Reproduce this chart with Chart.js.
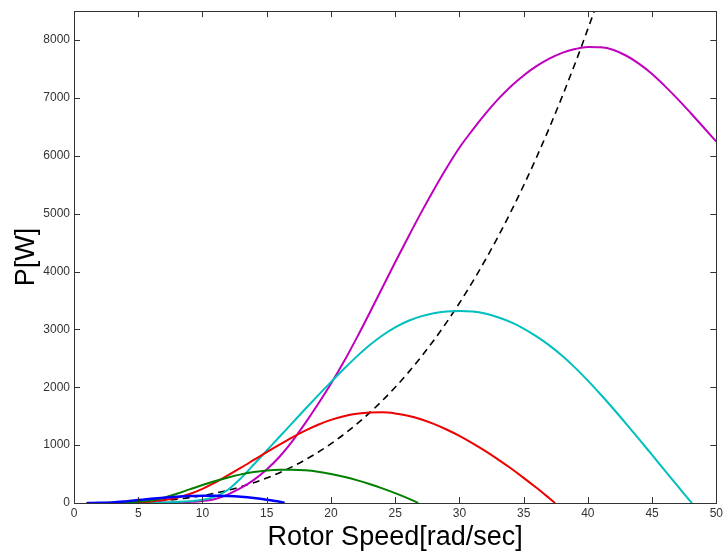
<!DOCTYPE html>
<html>
<head>
<meta charset="utf-8">
<script src="https://cdn.jsdelivr.net/npm/chart.js@4.4.0/dist/chart.umd.min.js"></script>
<style>
  html, body { margin: 0; padding: 0; background: #fff; }
  #wrap { width: 726px; height: 558px; }
</style>
</head>
<body>
<div id="wrap"><canvas id="powerChart"></canvas></div>
<script>
// rotor speed [rad/s] vs power [W], one curve per wind speed
const blueX = [1, 2, 3, 4, 5, 6, 7, 8, 9, 10, 11, 12, 13, 14, 15, 16, 16.4];
const blueY = [0, 3, 10, 28, 50, 72, 92, 108, 120, 127, 127, 120, 106, 85, 57, 22, 0];

const greenX = [1, 2, 3, 4, 5, 6, 7, 8, 9, 10, 11, 12, 13, 14, 15, 16, 17, 18, 19, 20, 21, 22, 23, 24, 25, 26, 26.8];
const greenY = [0, 1, 3, 8, 20, 45, 90, 160, 235, 310, 380, 442, 495, 535, 562, 575, 576, 565, 540, 502, 453, 395, 328, 253, 170, 80, 0];

const redX = [1, 2, 3, 4, 5, 6, 7, 8, 9, 10, 11, 12, 13, 14, 15, 16, 17, 18, 19, 20, 21, 22, 23, 24, 25,
              26, 27, 28, 29, 30, 31, 32, 33, 34, 35, 36, 37, 37.45];
const redY = [0, 1, 3, 6, 12, 25, 50, 90, 155, 245, 355, 480, 610, 745, 880, 1010, 1135, 1250, 1352, 1437, 1500, 1543, 1565, 1567, 1548,
              1508, 1447, 1367, 1270, 1160, 1035, 900, 755, 600, 435, 262, 82, 0];

const cyanX = [1, 3, 5, 7, 8, 9, 10, 11, 12, 13, 14, 15, 16, 17, 18, 19, 20, 21, 22, 23, 24, 25, 26, 27, 28, 29, 30,
               31, 32, 33, 34, 35, 36, 37, 38, 39, 40, 41, 42, 43, 44, 45, 46, 47, 48, 48.1];
const cyanY = [0, 1, 3, 10, 18, 30, 55, 110, 230, 430, 665, 905, 1145, 1385, 1625, 1860, 2090, 2315, 2530, 2725, 2895, 3035, 3145, 3225, 3280, 3310, 3320,
               3310, 3275, 3210, 3125, 3015, 2880, 2725, 2545, 2340, 2115, 1875, 1625, 1365, 1100, 830, 560, 290, 25, 0];

const magentaX = [1, 4, 6, 8, 9, 10, 11, 12, 13, 14, 15, 16, 17, 18, 19, 20, 21, 22, 23, 24, 25, 26, 27, 28, 29, 30,
                  31, 32, 33, 34, 35, 36, 37, 38, 39, 40, 41, 42, 43, 44, 45, 46, 47, 48, 49, 50];
const magentaY = [0, 1, 3, 8, 18, 35, 70, 150, 260, 400, 580, 800, 1070, 1380, 1710, 2060, 2440, 2850, 3280, 3720, 4160, 4590, 5010, 5410, 5790, 6140,
                  6440, 6720, 6975, 7200, 7390, 7550, 7680, 7780, 7845, 7880, 7875, 7830, 7730, 7590, 7415, 7205, 6980, 6740, 6495, 6245];

// optimum power line
const optX = [1, 3, 5, 7, 9, 11, 13, 15, 17, 19, 21, 23, 25, 27, 29, 31, 33, 35, 37, 39, 40.5];
const optY = [0, 3, 16, 44, 93, 170, 281, 432, 629, 878, 1185, 1557, 2000, 2519, 3122, 3813, 4600, 5488, 6484, 7593, 8500];

const xTicks = [0, 5, 10, 15, 20, 25, 30, 35, 40, 45, 50];
const yTicks = [0, 1000, 2000, 3000, 4000, 5000, 6000, 7000, 8000];

const FONT = "'Liberation Sans', Arial, sans-serif";
const AXIS_COLOR = '#333333';

function pts(xs, ys) { return xs.map((x, i) => ({ x: x, y: ys[i] })); }

function curve(xs, ys, color, width, dash) {
  return {
    data: pts(xs, ys),
    borderColor: color,
    backgroundColor: color,
    borderWidth: width,
    borderDash: dash || [],
    pointRadius: 0,
    cubicInterpolationMode: 'monotone',
    fill: false
  };
}

// matlab-style box with inward ticks on all four sides
const boxTicks = {
  id: 'boxTicks',
  afterDatasetsDraw(chart) {
    const { ctx, chartArea: a, scales } = chart;
    const len = 6;
    ctx.save();
    ctx.strokeStyle = AXIS_COLOR;
    ctx.lineWidth = 1;
    ctx.beginPath();
    xTicks.forEach(v => {
      const px = Math.round(scales.x.getPixelForValue(v)) + 0.5;
      ctx.moveTo(px, a.bottom); ctx.lineTo(px, a.bottom - len);
      ctx.moveTo(px, a.top); ctx.lineTo(px, a.top + len);
    });
    yTicks.forEach(v => {
      const py = Math.round(scales.y.getPixelForValue(v)) + 0.5;
      ctx.moveTo(a.left, py); ctx.lineTo(a.left + len, py);
      ctx.moveTo(a.right, py); ctx.lineTo(a.right - len, py);
    });
    ctx.stroke();
    ctx.strokeRect(Math.round(a.left) + 0.5, Math.round(a.top) + 0.5,
                   Math.round(a.right - a.left), Math.round(a.bottom - a.top));
    ctx.restore();
  }
};

new Chart(document.getElementById('powerChart'), {
  type: 'line',
  data: {
    datasets: [
      curve(blueX, blueY, '#0000ff', 2.5),
      curve(greenX, greenY, '#008000', 2),
      curve(redX, redY, '#ee0000', 2),
      curve(cyanX, cyanY, '#00bfbf', 2),
      curve(magentaX, magentaY, '#bf00bf', 2),
      curve(optX, optY, '#000000', 1.6, [7, 5])
    ]
  },
  options: {
    responsive: true,
    maintainAspectRatio: false,
    animation: false,
    layout: { padding: { top: 10, right: 7, left: 0, bottom: 0 } },
    plugins: {
      legend: { display: false },
      tooltip: { enabled: false }
    },
    scales: {
      x: {
        type: 'linear',
        min: 0,
        max: 50,
        afterBuildTicks: s => { s.ticks = xTicks.map(v => ({ value: v })); },
        afterFit: s => { s.height = 55; },
        grid: { display: false, drawTicks: false },
        border: { display: false },
        ticks: {
          color: AXIS_COLOR, font: { family: FONT, size: 12 }, padding: 3,
          maxRotation: 0, autoSkip: false, callback: v => String(v)
        },
        title: {
          display: true,
          text: 'Rotor Speed[rad/sec]',
          color: '#000',
          font: { family: FONT, size: 27 },
          padding: { top: 0, bottom: 4 }
        }
      },
      y: {
        type: 'linear',
        min: 0,
        max: 8500,
        afterBuildTicks: s => { s.ticks = yTicks.map(v => ({ value: v })); },
        afterFit: s => { s.width = 74; },
        grid: { display: false, drawTicks: false },
        border: { display: false },
        ticks: {
          color: AXIS_COLOR, font: { family: FONT, size: 12 }, padding: 4,
          autoSkip: false, callback: v => String(v)
        },
        title: {
          display: true,
          text: 'P[W]',
          color: '#000',
          font: { family: FONT, size: 27 },
          padding: { top: 10, bottom: 0 }
        }
      }
    }
  },
  plugins: [boxTicks]
});
</script>
</body>
</html>
